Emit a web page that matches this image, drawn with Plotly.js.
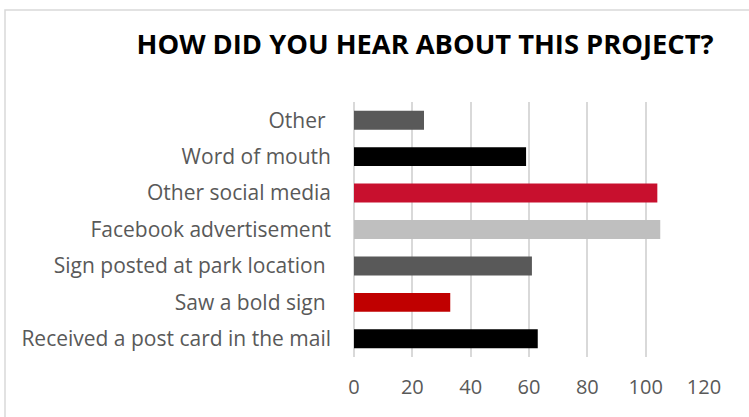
<!DOCTYPE html>
<html>
<head>
<meta charset="utf-8">
<script src="https://cdn.plot.ly/plotly-3.0.1.min.js"></script>
<style>html,body{margin:0;padding:0;background:#fff;}#chart{width:749px;height:417px;}</style>
</head>
<body>
<div id="chart"></div>
<script>
const categories = ["Other ", "Word of mouth", "Other social media", "Facebook advertisement", "Sign posted at park location ", "Saw a bold sign ", "Received a post card in the mail"];
const values = [24, 59, 104, 105, 61, 33, 63];
const barColors = ["#595959", "#000000", "#C8102E", "#BFBFBF", "#595959", "#C00000", "#000000"];
const xTicks = [0, 20, 40, 60, 80, 100, 120];
const titleText = "HOW DID YOU HEAR ABOUT THIS PROJECT?";

const L = 354, R = 704, T = 102, B = 357, W = 749, H = 417;
const px2x = p => (p - L) / (R - L);
const py2y = p => (B - p) / (B - T);

const trace = {
  type: 'bar',
  orientation: 'h',
  x: values,
  y: categories,
  marker: {color: barColors},
  hoverinfo: 'skip'
};

const layout = {
  width: W, height: H,
  margin: {l: L, r: W - R, t: T, b: H - B},
  paper_bgcolor: '#fff', plot_bgcolor: '#fff',
  bargap: 0.48,
  showlegend: false,
  title: {
    text: '<b>' + titleText + '</b>',
    x: 425 / W, xanchor: 'center', xref: 'container',
    y: 1 - 44 / H, yanchor: 'middle', yref: 'container',
    font: {family: '"Open Sans", sans-serif', size: 27.3, color: '#000'}
  },
  xaxis: {
    range: [0, 120],
    tickvals: xTicks,
    ticktext: xTicks.map(String),
    showgrid: true, gridcolor: '#d9d9d9', gridwidth: 1.8,
    zeroline: true, zerolinecolor: '#d9d9d9', zerolinewidth: 1.8,
    showline: false, ticks: '',
    ticklabelstandoff: 16,
    tickfont: {family: '"Open Sans", sans-serif', size: 20, color: '#595959'},
    fixedrange: true
  },
  yaxis: {
    type: 'category',
    autorange: 'reversed',
    showgrid: false, zeroline: false, showline: false, ticks: '',
    ticklabelstandoff: 22,
    tickfont: {family: '"Open Sans", sans-serif', size: 21, color: '#595959'},
    fixedrange: true
  },
  shapes: [{
    type: 'rect', xref: 'paper', yref: 'paper',
    x0: px2x(5), x1: px2x(W + 10), y0: py2y(H + 10), y1: py2y(10),
    line: {color: '#d9d9d9', width: 1.5}, fillcolor: 'rgba(0,0,0,0)', layer: 'below'
  }]
};

Plotly.newPlot('chart', [trace], layout, {displayModeBar: false, staticPlot: true});
</script>
</body>
</html>
